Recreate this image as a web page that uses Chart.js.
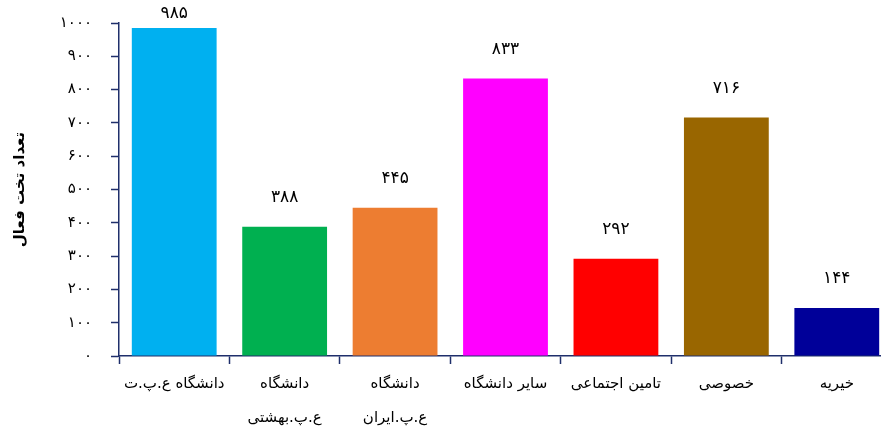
<!DOCTYPE html>
<html>
<head>
<meta charset="utf-8">
<script src="https://cdn.jsdelivr.net/npm/chart.js@4"></script>
<style>
  html, body { margin: 0; padding: 0; background: #fff; overflow: hidden; }
</style>
</head>
<body>
<canvas id="beds" width="892" height="432"></canvas>
<script>
const categories = [
  'دانشگاه ع.پ.ت',
  ['دانشگاه', 'ع.پ.بهشتی'],
  ['دانشگاه', 'ع.پ.ایران'],
  'سایر دانشگاه',
  'تامین اجتماعی',
  'خصوصی',
  'خیریه'
];
const activeBeds = [985, 388, 445, 833, 292, 716, 144];
const barColors = ['#00B0F0', '#00B050', '#ED7D31', '#FF00FF', '#FF0000', '#996600', '#000099'];
const yTicks = [0, 100, 200, 300, 400, 500, 600, 700, 800, 900, 1000];
const axisTitle = 'تعداد تخت فعال';

const faDigits = '۰۱۲۳۴۵۶۷۸۹';
const toFa = (n) => String(n).replace(/[0-9]/g, (d) => faDigits[d]);

const axisColor = '#1F2F6B';
const font = 'DejaVu Sans';

// value labels above the bars
const valueLabels = {
  id: 'valueLabels',
  afterDatasetsDraw(chart) {
    const ctx = chart.ctx;
    const meta = chart.getDatasetMeta(0);
    ctx.save();
    ctx.font = '17px "' + font + '"';
    ctx.fillStyle = '#000';
    ctx.textAlign = 'center';
    ctx.textBaseline = 'middle';
    meta.data.forEach((bar, i) => {
      const y = Math.max(bar.y - 29, 14);
      ctx.fillText(toFa(activeBeds[i]), bar.x, y);
    });
    ctx.restore();
  }
};

new Chart(document.getElementById('beds'), {
  type: 'bar',
  data: {
    labels: categories,
    datasets: [{
      data: activeBeds,
      backgroundColor: barColors,
      borderWidth: 0,
      barPercentage: 0.768,
      categoryPercentage: 1
    }]
  },
  options: {
    responsive: false,
    animation: false,
    layout: { padding: { top: 23, right: 0, left: 0, bottom: 0 } },
    plugins: {
      legend: { display: false },
      tooltip: { enabled: false }
    },
    scales: {
      x: {
        grid: {
          drawOnChartArea: false,
          tickLength: 8,
          color: axisColor,
          tickWidth: 1.5
        },
        border: { color: axisColor, width: 1.5 },
        ticks: {
          color: '#000',
          padding: 3,
          maxRotation: 0,
          autoSkip: false,
          font: { family: font, size: 15, lineHeight: 2.25 }
        },
        afterFit(scale) {
          scale.height = 76;
          scale.paddingLeft = 0;
          scale.paddingRight = 0;
        }
      },
      y: {
        min: 0,
        max: 1000,
        afterBuildTicks(scale) { scale.ticks = yTicks.map((v) => ({ value: v })); },
        grid: {
          drawOnChartArea: false,
          tickLength: 8,
          color: axisColor,
          tickWidth: 1.5
        },
        border: { color: axisColor, width: 1.5 },
        ticks: {
          color: '#000',
          padding: 19,
          font: { family: font, size: 15 },
          callback: (v) => toFa(v)
        },
        title: {
          display: true,
          text: axisTitle,
          color: '#000',
          padding: { top: 11, bottom: 0 },
          font: { family: font, size: 15, weight: 'bold' }
        },
        afterFit(scale) {
          scale.width = 119;
          scale.paddingTop = 0;
          scale.paddingBottom = 0;
        }
      }
    }
  },
  plugins: [valueLabels]
});
</script>
</body>
</html>
